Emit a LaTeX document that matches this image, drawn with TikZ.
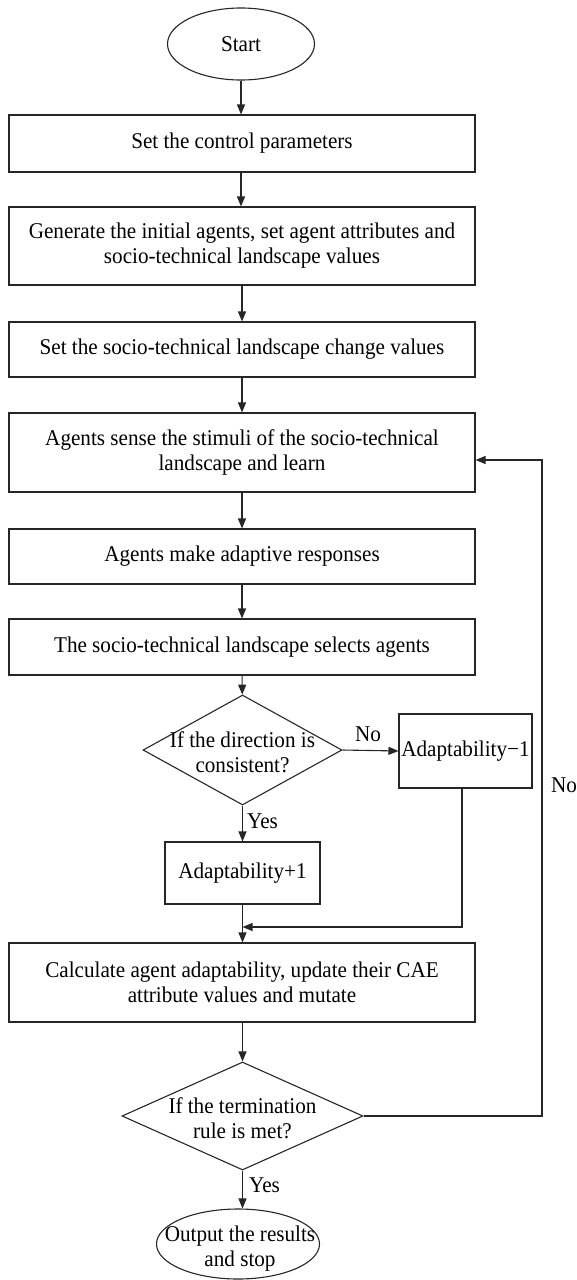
\documentclass[tikz,border=0pt]{standalone}
\usepackage{fontspec}
\setmainfont{Liberation Serif}[FakeStretch=0.94]
\usetikzlibrary{shapes.geometric,arrows.meta}
\begin{document}
\begin{tikzpicture}[x=1pt,y=-1pt,
  font=\fontsize{22.5}{25}\selectfont,
  ink/.style={draw=black!85, line width=1.1pt},
  arr/.style={ink, -{Triangle[length=10pt,width=8pt]}},
  procbox/.style={ink, rectangle, minimum width=466pt, align=center, inner sep=0pt},
  smallbox/.style={ink, rectangle, align=center, inner sep=0pt},
  term/.style={ink, ellipse, inner sep=0pt},
  decision/.style={ink, diamond, inner sep=0pt},
  txt/.style={align=center, inner sep=0pt},
  lbl/.style={inner sep=0pt}]

\useasboundingbox (0,0) rectangle (577,1280);

% terminals and process steps
\node[term, minimum width=147pt, minimum height=72pt] (start) at (241,44) {Start};
\node[procbox, minimum height=57pt] (b1) at (242,143.5) {Set the control parameters};
\node[procbox, minimum height=78pt] (b2) at (242,246) {Generate the initial agents, set agent attributes and\\socio-technical landscape values};
\node[procbox, minimum height=55pt] (b3) at (242,349.5) {Set the socio-technical landscape change values};
\node[procbox, minimum height=79pt] (b4) at (242,452.5) {Agents sense the stimuli of the socio-technical\\landscape and learn};
\node[procbox, minimum height=55pt] (b5) at (242,556.5) {Agents make adaptive responses};
\node[procbox, minimum height=56pt] (b6) at (242,647) {The socio-technical landscape selects agents};

% first decision
\node[decision, minimum width=199pt, minimum height=110pt] (d1) at (242.5,750) {};
\node[txt] (d1t) at (242.5,752) {If the direction is\\consistent?};
\node[smallbox, minimum width=133pt, minimum height=74pt] (am) at (465.5,751) {Adaptability\char"2212 1};
\node[smallbox, minimum width=155pt, minimum height=62pt] (ap) at (242.5,873) {Adaptability+1};

\node[procbox, minimum height=79pt] (b7) at (242,982.5) {Calculate agent adaptability, update their CAE\\attribute values and mutate};

% second decision
\node[decision, minimum width=241pt, minimum height=108pt] (d2) at (242.5,1116) {};
\node[txt] (d2t) at (242.5,1118) {If the termination\\rule is met?};

\node[term, minimum width=163pt, minimum height=70pt] (stop) at (238,1244) {};
\node[txt] (stopt) at (240,1249) {Output the results\\and stop};

% main flow
\draw[arr] (start) -- (start |- b1.north);
\draw[arr] (b1.south -| start) -- (b2.north -| start);
\draw[arr] (b2) -- (b3);
\draw[arr] (b3) -- (b4);
\draw[arr] (b4) -- (b5);
\draw[arr] (b5) -- (b6);
\draw[arr] (b6) -- (d1);
\draw[arr] (d1.east) -- (am.west);
\draw[arr] (d1.south) -- (ap.north);
\draw[arr] (ap.south) -- (b7.north -| ap.south);

% join from the "No" branch
\coordinate (mj) at (462,927);
\draw[arr] (am.south -| mj) -- (mj) -- (ap.south |- mj);

\draw[arr] (b7.south -| d2.north) -- (d2.north);
\draw[arr] (d2.south) -- (d2.south |- stop.north);

% loop back
\coordinate (fbB) at (542,1116);
\coordinate (fbT) at (542,460);
\draw[arr] (d2.east) -- (fbB) -- (fbT) -- (b4.east |- fbT);

% branch labels
\node[lbl, anchor=base] (no1) at (368,741) {No};
\node[lbl, anchor=base west] (yes1) at (247,828) {Yes};
\node[lbl, anchor=base] (no2) at (564,792) {No};
\node[lbl, anchor=base west] (yes2) at (249,1192) {Yes};
\end{tikzpicture}
\end{document}
